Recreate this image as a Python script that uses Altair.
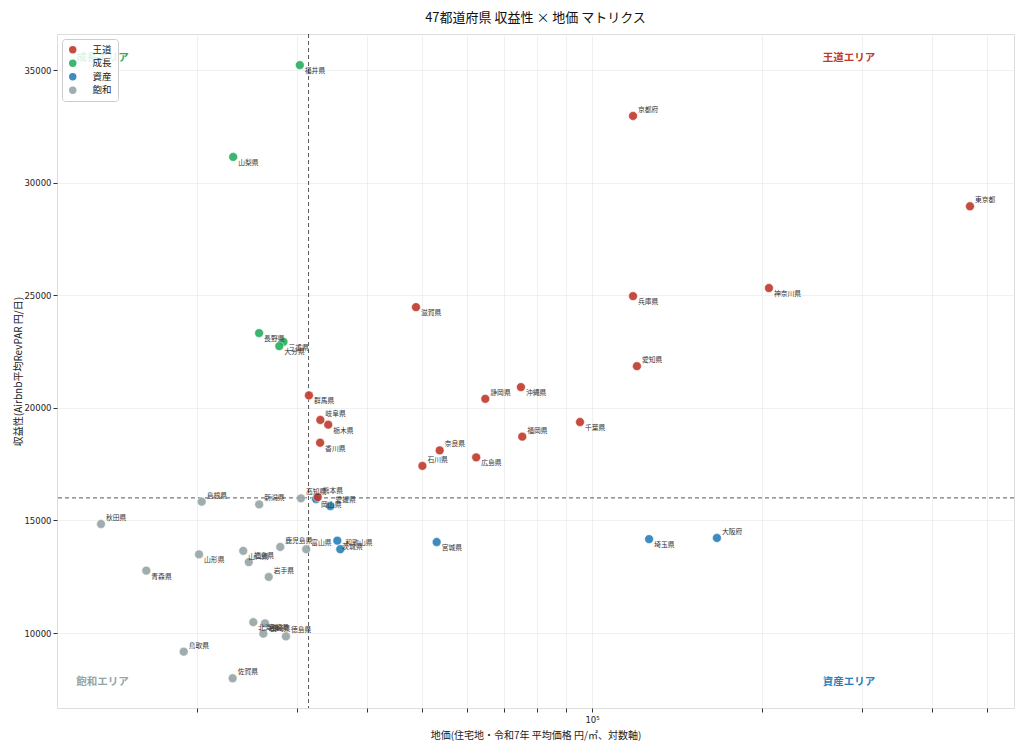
import altair as alt
import pandas as pd

# ---- data ----
prefectures = ["北海道", "青森県", "岩手県", "宮城県", "秋田県", "山形県", "福島県", "茨城県",
               "栃木県", "群馬県", "埼玉県", "千葉県", "東京都", "神奈川県", "新潟県", "富山県",
               "石川県", "福井県", "山梨県", "長野県", "岐阜県", "静岡県", "愛知県", "三重県",
               "滋賀県", "京都府", "大阪府", "兵庫県", "奈良県", "和歌山県", "鳥取県", "島根県",
               "岡山県", "広島県", "山口県", "徳島県", "香川県", "愛媛県", "高知県", "福岡県",
               "佐賀県", "長崎県", "熊本県", "大分県", "宮崎県", "鹿児島県", "沖縄県"]
land_price = [25150, 16260, 26780, 53100, 13520, 20160, 24690, 35420,
              34130, 31550, 126200, 95230, 466700, 205700, 25760, 31200,
              50100, 30400, 23170, 25750, 33050, 64740, 120100, 28440,
              48810, 118200, 166400, 118200, 53760, 35850, 18940, 20380,
              32480, 62380, 24140, 28730, 33020, 34430, 30540, 75260,
              23120, 26380, 32700, 27960, 26200, 28070, 74850]
revpar = [10480, 12770, 12490, 14040, 14840, 13490, 13150, 14100,
          19250, 20550, 14170, 19370, 28950, 25320, 15710, 13720,
          17420, 35220, 31140, 23320, 19460, 20400, 21850, 22930,
          24470, 32960, 14220, 24960, 18110, 13720, 9170, 15830,
          15950, 17800, 13650, 9850, 18450, 15640, 15980, 18720,
          7990, 10430, 16030, 22740, 9970, 13820, 20920]

X_TH = 31500   # 地価の中央値ライン
Y_TH = 16000   # 収益性の中央値ライン

categories = ["王道", "成長", "資産", "飽和"]
cat_colors = ["#c0392b", "#27ae60", "#2980b9", "#95a5a6"]
area_names = ["王道エリア", "成長エリア", "資産エリア", "飽和エリア"]

x_ticks = [20000, 30000, 40000, 50000, 60000, 70000, 80000, 90000,
           100000, 200000, 300000, 400000, 500000]
y_ticks = [10000, 15000, 20000, 25000, 30000, 35000]

# label placement (style): prefectures whose name sits above the point
labels_above = ["京都府", "東京都", "愛知県", "静岡県", "福岡県", "奈良県", "石川県", "岐阜県",
                "島根県", "新潟県", "高知県", "熊本県", "愛媛県", "秋田県", "鹿児島県", "岩手県",
                "富山県", "大阪府", "和歌山県", "鳥取県", "佐賀県", "徳島県", "宮崎県", "福島県"]


def classify(x, y):
    if x >= X_TH and y >= Y_TH:
        return "王道"
    if x < X_TH and y >= Y_TH:
        return "成長"
    if x >= X_TH:
        return "資産"
    return "飽和"


df = pd.DataFrame({"pref": prefectures, "land": land_price, "revpar": revpar})
df["cat"] = [classify(a, b) for a, b in zip(df["land"], df["revpar"])]
df["above"] = df["pref"].isin(labels_above)

X_DOM = [11300, 558400]
Y_DOM = [6670, 36600]
JP = "Noto Sans CJK JP"

xenc = alt.X("land:Q",
             scale=alt.Scale(type="log", domain=X_DOM, nice=False),
             axis=alt.Axis(values=x_ticks,
                           labelExpr="datum.value == 100000 ? '10⁵' : ''",
                           title="地価(住宅地・令和7年 平均価格 円/㎡、対数軸)",
                           titleFont=JP, titleFontSize=10, titleFontWeight="normal",
                           titleColor="#222", titlePadding=7,
                           labelFont="DejaVu Sans", labelFontSize=8.5, labelColor="#222",
                           labelPadding=3, tickSize=4, tickColor="#333",
                           grid=True, gridColor="#ececec", gridWidth=0.8, domain=False,
                           labelOverlap=False))
yenc = alt.Y("revpar:Q",
             scale=alt.Scale(domain=Y_DOM, nice=False, zero=False),
             axis=alt.Axis(values=y_ticks, format="d",
                           title="収益性(Airbnb平均RevPAR 円/日)",
                           titleFont=JP, titleFontSize=10, titleFontWeight="normal",
                           titleColor="#222", titlePadding=0,
                           labelFont="DejaVu Sans", labelFontSize=8.5, labelColor="#222",
                           labelPadding=2, tickSize=4, tickColor="#333",
                           grid=True, gridColor="#ececec", gridWidth=0.8, domain=False))

base = alt.Chart(df)

points = base.mark_point(filled=True, shape="circle", size=78, opacity=0.9,
                         stroke="white", strokeWidth=0.5).encode(
    x=xenc, y=yenc,
    color=alt.Color("cat:N",
                    scale=alt.Scale(domain=categories, range=cat_colors),
                    legend=alt.Legend(title=None, orient="top-left", offset=5,
                                      labelFont=JP, labelFontSize=9.5, labelColor="#222",
                                      symbolType="circle", symbolSize=55,
                                      symbolOpacity=0.9, symbolStrokeWidth=0,
                                      labelOffset=15, rowPadding=2.5, padding=6,
                                      fillColor="rgba(255,255,255,0.85)",
                                      strokeColor="#cccccc", cornerRadius=3)),
)

lab_above = base.transform_filter("datum.above").mark_text(
    align="left", baseline="middle", dx=5, dy=-6, font=JP, fontSize=6.8, color="#333"
).encode(x="land:Q", y="revpar:Q", text="pref:N")
lab_below = base.transform_filter("!datum.above").mark_text(
    align="left", baseline="middle", dx=5, dy=6, font=JP, fontSize=6.8, color="#333"
).encode(x="land:Q", y="revpar:Q", text="pref:N")

vline = alt.Chart(pd.DataFrame({"land": [X_TH]})).mark_rule(
    color="#444", strokeDash=[4, 3], strokeWidth=0.9).encode(x="land:Q")
hline = alt.Chart(pd.DataFrame({"revpar": [Y_TH]})).mark_rule(
    color="#444", strokeDash=[4, 3], strokeWidth=0.9).encode(y="revpar:Q")

area_df = pd.DataFrame({
    "name": area_names,
    "land": [285000, 13600, 285000, 13600],
    "revpar": [35530, 35530, 7820, 7820],
})
area_layers = []
for nm, col in zip(area_names, cat_colors):
    area_layers.append(
        alt.Chart(area_df).transform_filter(alt.datum.name == nm).mark_text(
            align="center", baseline="middle", font=JP, fontSize=10.5,
            fontWeight="bold", color=col
        ).encode(x="land:Q", y="revpar:Q", text="name:N")
    )

chart = alt.layer(
    vline, hline, *area_layers, points, lab_above, lab_below
).properties(
    width=957, height=674,
    title=alt.TitleParams("47都道府県 収益性 × 地価 マトリクス", font=JP, fontSize=13,
                          fontWeight="normal", color="#111", anchor="middle", offset=9),
    autosize=alt.AutoSizeParams(type="none"),
    padding={"left": 49, "top": 26, "right": 2, "bottom": 33},
).configure_view(stroke="#333", strokeWidth=1).configure(background="white")

chart.save("out.html", embed_options={"renderer": "svg", "actions": False})
